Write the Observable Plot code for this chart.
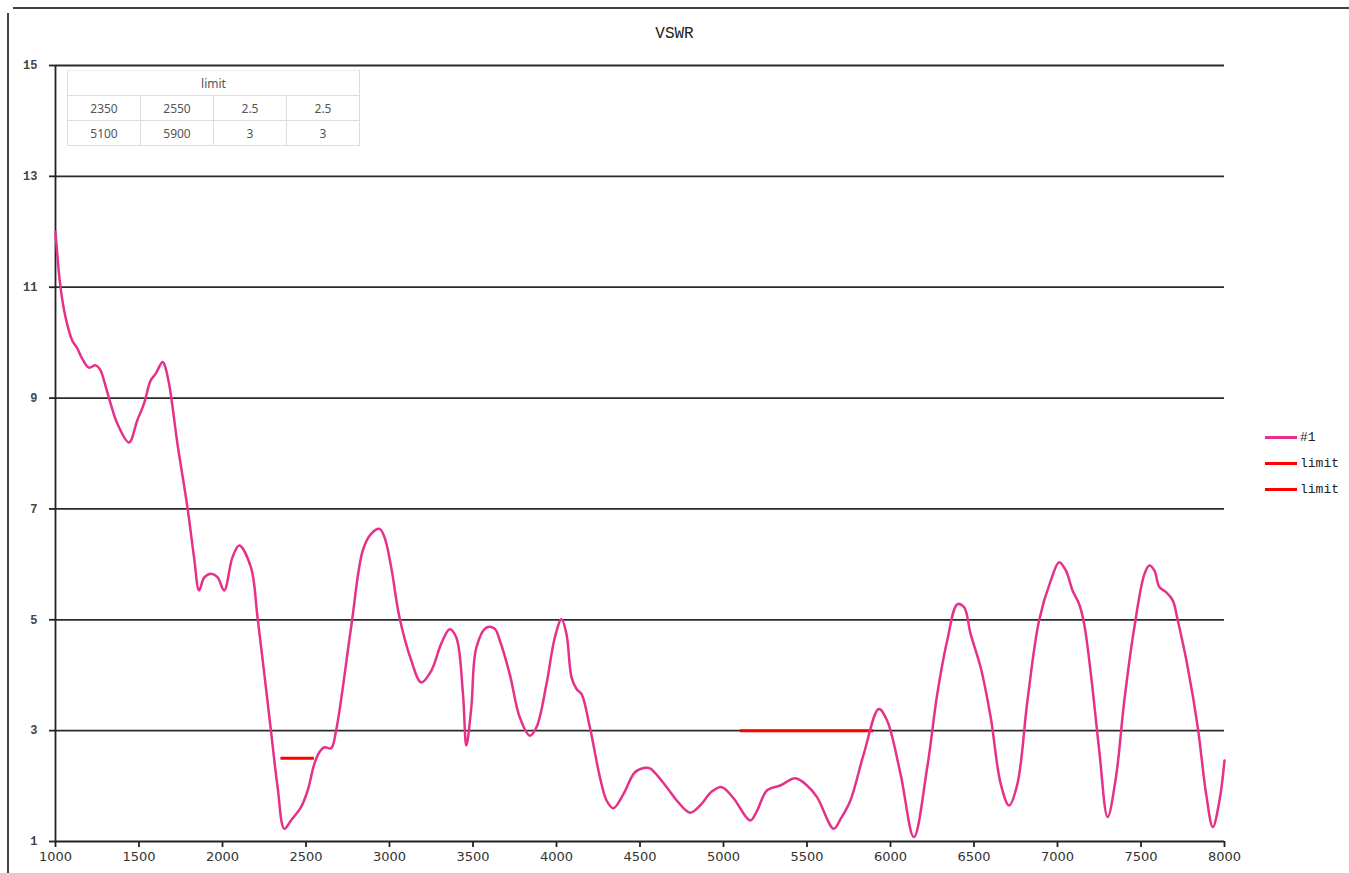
<!DOCTYPE html>
<html>
<head>
<meta charset="utf-8">
<script src="https://cdn.jsdelivr.net/npm/d3@7"></script>
<script src="https://cdn.jsdelivr.net/npm/@observablehq/plot@0.6"></script>
<style>
  html, body { margin: 0; padding: 0; background: #fff; }
  #wrap { position: relative; width: 1349px; height: 873px; overflow: hidden; background: #fff; }
  #chart { position: absolute; left: 0; top: 0; }
  .frameTop { position: absolute; left: 13px; top: 7px; width: 1336px; height: 2px; background: #444; }
  .frameLeft { position: absolute; left: 7px; top: 13px; width: 2px; height: 860px; background: #444; }
  #title { position: absolute; left: 0; width: 1349px; top: 25px; text-align: center; font-family: "Liberation Mono", "DejaVu Sans Mono", monospace; font-size: 16px; color: #222; }
  #legend { position: absolute; left: 1265px; top: 424px; font-family: "Liberation Mono", "DejaVu Sans Mono", monospace; font-size: 13px; color: #222; }
  #legend .row { display: flex; align-items: center; height: 26px; }
  #legend .sw { width: 32px; height: 3px; margin-right: 3px; }
  #tbl { position: absolute; left: 67px; top: 70px; border-collapse: collapse; font-family: "Noto Sans", "Open Sans", sans-serif; font-size: 12px; color: #555; background: #fff; }
  #tbl td { border: 1px solid #ddd; width: 72px; height: 24px; padding: 0; text-align: center; }
  #tbl tr:first-child td { border-top-color: #eee; }
</style>
</head>
<body>
<div id="wrap">
  <div id="chart"></div>
  <div class="frameTop"></div>
  <div class="frameLeft"></div>
  <div id="title"></div>
  <div id="legend"></div>
  <table id="tbl"></table>
</div>
<script>
// ---- Data ----
const chartTitle = "VSWR";
const freq = [1000,1030,1060,1100,1130,1160,1200,1240,1270,1290,1330,1370,1440,1490,1530,1570,1600,1640,1650,1680,1730,1790,1830,1860,1890,1930,1970,2010,2060,2100,2170,2210,2290,2330,2370,2410,2470,2510,2550,2580,2610,2650,2680,2770,2840,2890,2940,2970,3010,3060,3130,3190,3250,3310,3360,3400,3440,3460,3490,3520,3580,3630,3660,3720,3780,3840,3880,3940,3990,4030,4060,4090,4120,4150,4200,4260,4300,4340,4400,4470,4530,4560,4660,4720,4800,4860,4930,4990,5060,5160,5200,5260,5340,5430,5500,5560,5660,5700,5760,5840,5930,5980,6060,6140,6220,6280,6340,6400,6440,6480,6540,6600,6660,6710,6760,6820,6890,6960,7010,7050,7090,7130,7160,7200,7250,7300,7350,7400,7460,7520,7550,7580,7610,7650,7690,7720,7780,7840,7890,7930,7970,8000];
const vswr = [12.0,11.0,10.46,10.04,9.9,9.71,9.55,9.59,9.5,9.32,8.9,8.54,8.2,8.6,8.9,9.32,9.44,9.65,9.62,9.26,8.18,7.03,6.12,5.53,5.76,5.83,5.77,5.53,6.13,6.34,5.95,5.04,3.0,1.98,1.23,1.38,1.62,1.92,2.4,2.61,2.70,2.68,3.0,4.86,6.25,6.55,6.64,6.49,5.95,5.04,4.27,3.87,4.08,4.57,4.83,4.68,3.66,2.73,3.42,4.50,4.86,4.84,4.63,4.02,3.24,2.91,3.06,3.84,4.68,5.01,4.74,3.96,3.75,3.66,3.06,2.16,1.74,1.6,1.85,2.25,2.33,2.32,1.98,1.74,1.52,1.65,1.9,1.98,1.78,1.38,1.55,1.92,2.01,2.14,2.01,1.80,1.23,1.4,1.74,2.58,3.39,3.18,2.22,1.08,2.34,3.66,4.63,5.28,5.23,4.74,4.14,3.24,2.04,1.65,2.04,3.54,4.99,5.71,6.04,5.89,5.53,5.28,4.92,4.02,2.64,1.44,2.16,3.54,4.86,5.82,5.98,5.89,5.59,5.50,5.35,4.99,4.14,3.06,1.86,1.26,1.74,2.46];
const limitStart = [2350, 5100];
const limitEnd = [2550, 5900];
const limitValue = [2.5, 3];
const seriesNames = ["#1", "limit", "limit"];
const seriesColors = ["#e6318a", "#ff0000", "#ff0000"];
const tableHeader = "limit";
const tableRows = [["2350","2550","2.5","2.5"],["5100","5900","3","3"]];
const xTicks = [1000,1500,2000,2500,3000,3500,4000,4500,5000,5500,6000,6500,7000,7500,8000];
const yTicks = [1,3,5,7,9,11,13,15];
const gridVals = [3,5,7,9,11,13,15];

// ---- Build tables ----
const curve = freq.map((f, i) => ({f, v: vswr[i]}));
const limits = limitStart.map((s, i) => ({x1: s, x2: limitEnd[i], y: limitValue[i]}));

const plot = Plot.plot({
  width: 1349,
  height: 873,
  marginLeft: 55,
  marginRight: 125,
  marginTop: 65,
  marginBottom: 32,
  x: {domain: [1000, 8000]},
  y: {domain: [1, 15]},
  style: {background: "transparent", overflow: "visible"},
  marks: [
    Plot.ruleY(gridVals, {stroke: "#2a2a2a", strokeWidth: 1.8}),
    Plot.ruleY([1], {stroke: "#222", strokeWidth: 1.8}),
    Plot.ruleX([1000], {stroke: "#222", strokeWidth: 1.8}),
    Plot.axisY({ticks: yTicks, tickSize: 6, tickPadding: 12, label: null, stroke: "#222", strokeWidth: 1.8, fontSize: 12, fontWeight: "bold", fontFamily: "Liberation Mono, DejaVu Sans Mono, monospace", fill: "#444"}),
    Plot.axisX({ticks: xTicks, tickSize: 6, tickPadding: 4, label: null, stroke: "#222", strokeWidth: 1.8, fontSize: 13, fontFamily: "DejaVu Sans, sans-serif", fill: "#333", tickFormat: d => String(d)}),
    Plot.ruleY(limits, {x1: "x1", x2: "x2", y: "y", stroke: seriesColors[1], strokeWidth: 3}),
    Plot.line(curve, {x: "f", y: "v", stroke: seriesColors[0], strokeWidth: 2.5, curve: "catmull-rom"})
  ]
});
document.getElementById("chart").appendChild(plot);

// ---- Title ----
document.getElementById("title").textContent = chartTitle;

// ---- Legend ----
const legend = document.getElementById("legend");
seriesNames.forEach((n, i) => {
  const row = document.createElement("div");
  row.className = "row";
  const sw = document.createElement("div");
  sw.className = "sw";
  sw.style.background = seriesColors[i];
  const t = document.createElement("span");
  t.textContent = n;
  row.appendChild(sw); row.appendChild(t);
  legend.appendChild(row);
});

// ---- Table ----
const tbl = document.getElementById("tbl");
const hr = document.createElement("tr");
const hd = document.createElement("td");
hd.colSpan = 4; hd.textContent = tableHeader;
hr.appendChild(hd); tbl.appendChild(hr);
tableRows.forEach(r => {
  const tr = document.createElement("tr");
  r.forEach(c => { const td = document.createElement("td"); td.textContent = c; tr.appendChild(td); });
  tbl.appendChild(tr);
});
</script>
</body>
</html>
